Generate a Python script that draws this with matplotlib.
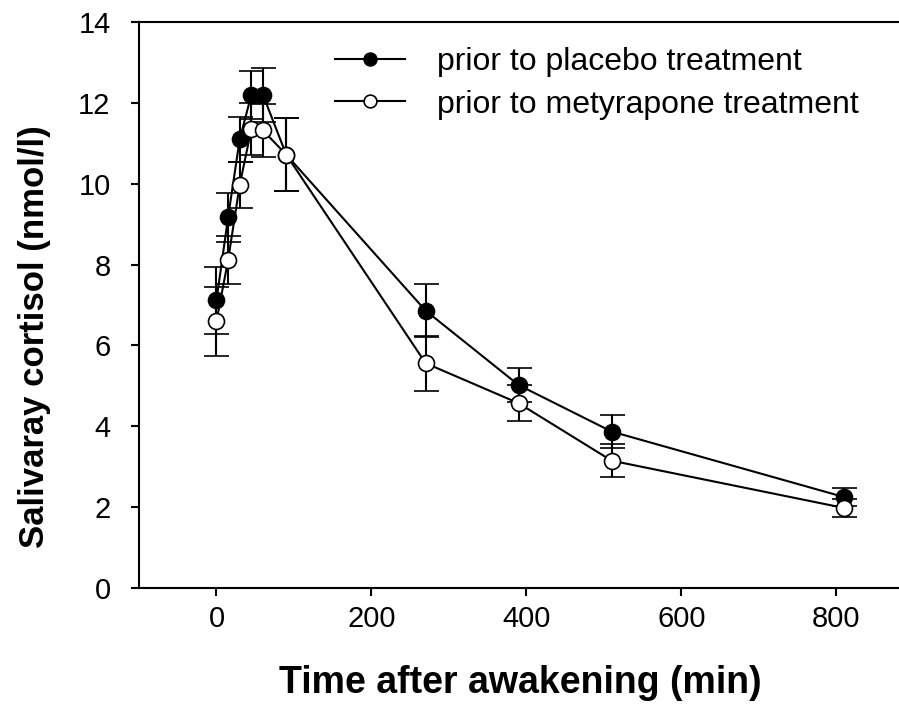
import matplotlib
matplotlib.use("Agg")
import matplotlib.pyplot as plt

plt.rcParams['font.family'] = ['Liberation Sans', 'DejaVu Sans']

time_min = [0, 15, 30, 45, 60, 90, 270, 390, 510, 810]
placebo_mean = [7.12, 9.17, 11.1, 12.2, 12.2, 10.72, 6.86, 5.02, 3.87, 2.25]
placebo_err = [0.83, 0.6, 0.56, 0.6, 0.67, 0.9, 0.66, 0.43, 0.4, 0.23]
metyrapone_mean = [6.6, 8.11, 9.97, 11.35, 11.32, 10.72, 5.56, 4.57, 3.15, 1.98]
metyrapone_err = [0.85, 0.6, 0.57, 0.65, 0.65, 0.9, 0.68, 0.45, 0.4, 0.23]

label_placebo = "prior to placebo treatment"
label_metyrapone = "prior to metyrapone treatment"
xlabel = "Time after awakening (min)"
ylabel = "Salivaray cortisol (nmol/l)"
xticks = [0, 200, 400, 600, 800]
yticks = [0, 2, 4, 6, 8, 10, 12, 14]

fig = plt.figure(figsize=(8.99, 7.2), dpi=100)
ax = fig.add_axes([139/899, 1-588/720, 1-139/899, (588-22)/720])

ax.errorbar(time_min, placebo_mean, yerr=placebo_err, color='black', lw=1.5,
            marker='o', ms=11.5, mfc='black', mec='black', mew=1.2,
            capsize=9, capthick=1.5, elinewidth=1.5, label=label_placebo, zorder=3)
ax.errorbar(time_min, metyrapone_mean, yerr=metyrapone_err, color='black', lw=1.5,
            marker='o', ms=11.5, mfc='white', mec='black', mew=1.2,
            capsize=9, capthick=1.5, elinewidth=1.5, label=label_metyrapone, zorder=4)

ax.set_xlim(-100, 881)
ax.set_ylim(0, 14)
ax.set_xticks(xticks)
ax.set_yticks(yticks)
ax.spines['right'].set_visible(False)
for s in ['left', 'bottom', 'top']:
    ax.spines[s].set_linewidth(1.5)
ax.tick_params(direction='out', length=5.5, width=1.5, labelsize=21)
ax.tick_params(axis='x', pad=7)
ax.tick_params(axis='y', pad=15)

fig.text(520/899, 1-683/720, xlabel, ha='center', va='center',
         fontsize=27, fontweight='bold')
fig.text(35/899, 1-337/720, ylabel, ha='center', va='center', rotation=90,
         fontsize=25, fontweight='bold')

handles, labels = ax.get_legend_handles_labels()
handles = [h[0] for h in handles]
leg = ax.legend(handles, labels, loc='upper left', bbox_to_anchor=(0.258, 0.955),
                frameon=False, fontsize=23, markerscale=0.8, handlelength=2.2,
                handletextpad=1.0, labelspacing=0.38, borderpad=0, borderaxespad=0)

fig.savefig("out.png", dpi=100)
